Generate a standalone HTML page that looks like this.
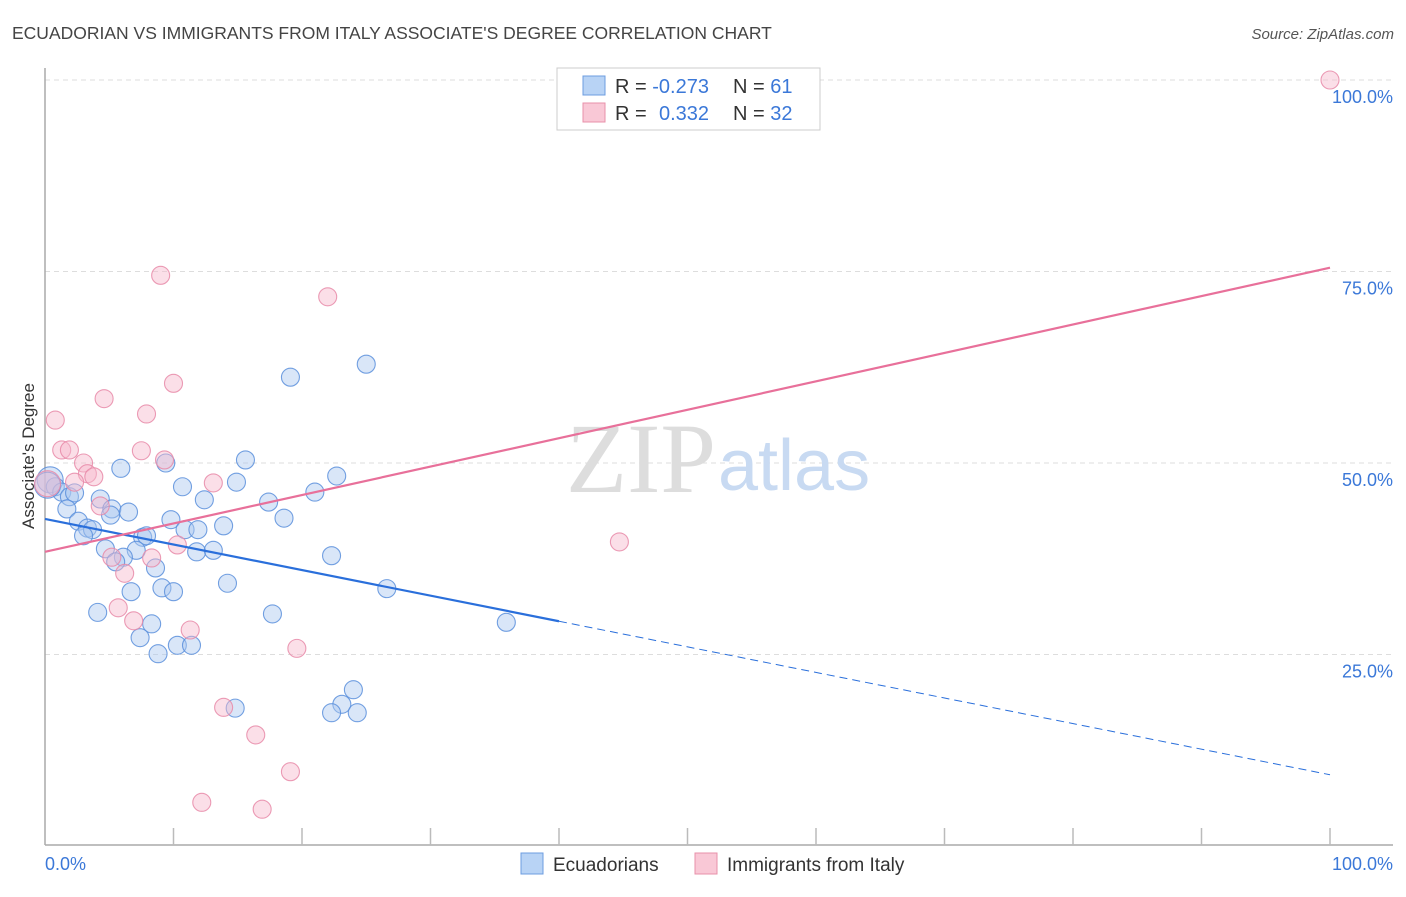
<!DOCTYPE html>
<html><head><meta charset="utf-8"><style>
body{margin:0;background:#fff;font-family:"Liberation Sans",sans-serif;}
</style></head><body>
<svg width="1406" height="892" xmlns="http://www.w3.org/2000/svg">
<text x="12" y="39" font-size="17.5" fill="#444">ECUADORIAN VS IMMIGRANTS FROM ITALY ASSOCIATE'S DEGREE CORRELATION CHART</text>
<text x="1394" y="39" font-size="15" fill="#555" font-style="italic" text-anchor="end">Source: ZipAtlas.com</text>
<g id="grid"></g>
<text x="716" y="492" font-size="100" fill="#ddd" text-anchor="end" font-family="Liberation Serif,serif">ZIP</text>
<text x="718" y="490" font-size="72" fill="#c8daf2">atlas</text>
<line x1="45" y1="68" x2="45" y2="845" stroke="#aaa" stroke-width="1.5"/>
<line x1="45" y1="845" x2="1393" y2="845" stroke="#aaa" stroke-width="1.5"/>
<g id="ticks"></g>
<g id="pts"></g>
<g id="trend"></g>
<text x="34" y="456" font-size="17" fill="#333" text-anchor="middle" transform="rotate(-90 34 456)">Associate's Degree</text>
<text x="45" y="870" font-size="18" fill="#3b78d8">0.0%</text>
<text x="1393" y="870" font-size="18" fill="#3b78d8" text-anchor="end">100.0%</text>
<g>
<rect x="557" y="68" width="263" height="62" fill="#fff" stroke="#ccc"/>
<rect x="583" y="76" width="22" height="19" fill="#b8d3f5" stroke="#6c9de0"/>
<rect x="583" y="103" width="22" height="19" fill="#f9c8d6" stroke="#e890aa"/>
<text x="615" y="93" font-size="20" fill="#333">R = <tspan fill="#3b78d8">-0.273</tspan><tspan x="733">N = </tspan><tspan fill="#3b78d8">61</tspan></text>
<text x="615" y="120" font-size="20" fill="#333">R = <tspan fill="#3b78d8" x="659">0.332</tspan><tspan x="733">N = </tspan><tspan fill="#3b78d8">32</tspan></text>
</g>
<g>
<rect x="521" y="853" width="22" height="21" fill="#b8d3f5" stroke="#6c9de0"/>
<text x="553" y="871" font-size="19" fill="#333">Ecuadorians</text>
<rect x="695" y="853" width="22" height="21" fill="#f9c8d6" stroke="#e890aa"/>
<text x="727" y="871" font-size="19" fill="#333">Immigrants from Italy</text>
</g>
</svg>
<script>
const yTicks=[25,50,75,100];
const blueX=[0.4,0.8,1.3,1.9,2.3,4.3,1.7,2.6,5.2,5.1,6.5,3.3,3.7,3.0,7.6,7.9,5.9,9.4,10.7,12.4,14.9,15.6,17.4,18.6,21.0,22.7,19.1,25.0,9.8,10.9,11.9,13.9,4.7,7.1,6.1,5.5,8.6,11.8,13.1,22.3,9.1,10.0,14.2,26.6,6.7,4.1,17.7,8.3,7.4,10.3,11.4,8.8,35.9,14.8,24.0,23.1,22.3,24.3,0.2];
const blueY=[47.8,46.9,46.2,45.6,46.1,45.3,44.0,42.4,44.0,43.2,43.6,41.5,41.3,40.5,40.3,40.5,49.3,50.0,46.9,45.2,47.5,50.4,44.9,42.8,46.2,48.3,61.2,62.9,42.6,41.3,41.3,41.8,38.8,38.6,37.7,37.1,36.3,38.4,38.6,37.9,33.7,33.2,34.3,33.6,33.2,30.5,30.3,29.0,27.2,26.2,26.2,25.1,29.2,18.0,20.4,18.5,17.4,17.4,47.1];
const pinkX=[100,9.0,22.0,10.0,4.6,7.9,0.8,1.3,1.9,7.5,9.3,3.0,3.3,3.8,2.3,13.1,0.2,4.3,10.3,44.7,5.2,8.3,6.2,5.7,6.9,11.3,19.6,13.9,16.4,19.1,12.2,16.9];
const pinkY=[100,74.5,71.7,60.4,58.4,56.4,55.6,51.7,51.7,51.6,50.4,50.0,48.6,48.2,47.5,47.4,47.3,44.4,39.3,39.7,37.7,37.6,35.6,31.1,29.4,28.2,25.8,18.1,14.5,9.7,5.7,4.8];
const blueTrend=[42.7,9.3];
const pinkTrend=[38.4,75.5];
const blueSolidEnd=40;
const NS="http://www.w3.org/2000/svg";
const sx=v=>45+v*12.85, sy=v=>846-v*7.66;
function mk(t,a,p){const e=document.createElementNS(NS,t);for(const k in a)e.setAttribute(k,a[k]);document.getElementById(p).appendChild(e);return e;}
yTicks.forEach(t=>{
 const l=mk('line',{x1:45,x2:1393,y1:sy(t),y2:sy(t),stroke:'#ddd','stroke-dasharray':'5,4'},'grid');
 
 
 const tx=mk('text',{x:1393,y:sy(t)+23,'font-size':18,fill:'#3b78d8','text-anchor':'end'},'grid');
 tx.textContent=t.toFixed(1)+'%';
 
 
});
for(let i=1;i<=10;i++){const l=mk('line',{x1:sx(i*10),x2:sx(i*10),y1:845,y2:828,stroke:'#bbb','stroke-width':1.5},'ticks');
 
 }
function pts(X,Y,fill,stroke,name){X.forEach((x,i)=>{const c=mk('circle',{cx:sx(x),cy:sy(Y[i]),r:(x<0.5?13:9),fill:fill,'fill-opacity':0.45,stroke:stroke,'stroke-width':1.1,'stroke-opacity':0.85},'pts');
 
 });}
pts(blueX,blueY,'#aac8f0','#5a8fdc','ecuadorian-point');
pts(pinkX,pinkY,'#f7b9cb','#e88aa8','italy-point');
const bt=x=>blueTrend[0]+(blueTrend[1]-blueTrend[0])*x/100, pt=x=>pinkTrend[0]+(pinkTrend[1]-pinkTrend[0])*x/100;
let l=mk('line',{x1:sx(0),y1:sy(bt(0)),x2:sx(blueSolidEnd),y2:sy(bt(blueSolidEnd)),stroke:'#2a6fdb','stroke-width':2.2},'trend');


l=mk('line',{x1:sx(blueSolidEnd),y1:sy(bt(blueSolidEnd)),x2:sx(100),y2:sy(bt(100)),stroke:'#2a6fdb','stroke-width':1,'stroke-dasharray':'8,5'},'trend');


l=mk('line',{x1:sx(0),y1:sy(pt(0)),x2:sx(100),y2:sy(pt(100)),stroke:'#e8709a','stroke-width':2.2},'trend');


</script>
</body></html>
